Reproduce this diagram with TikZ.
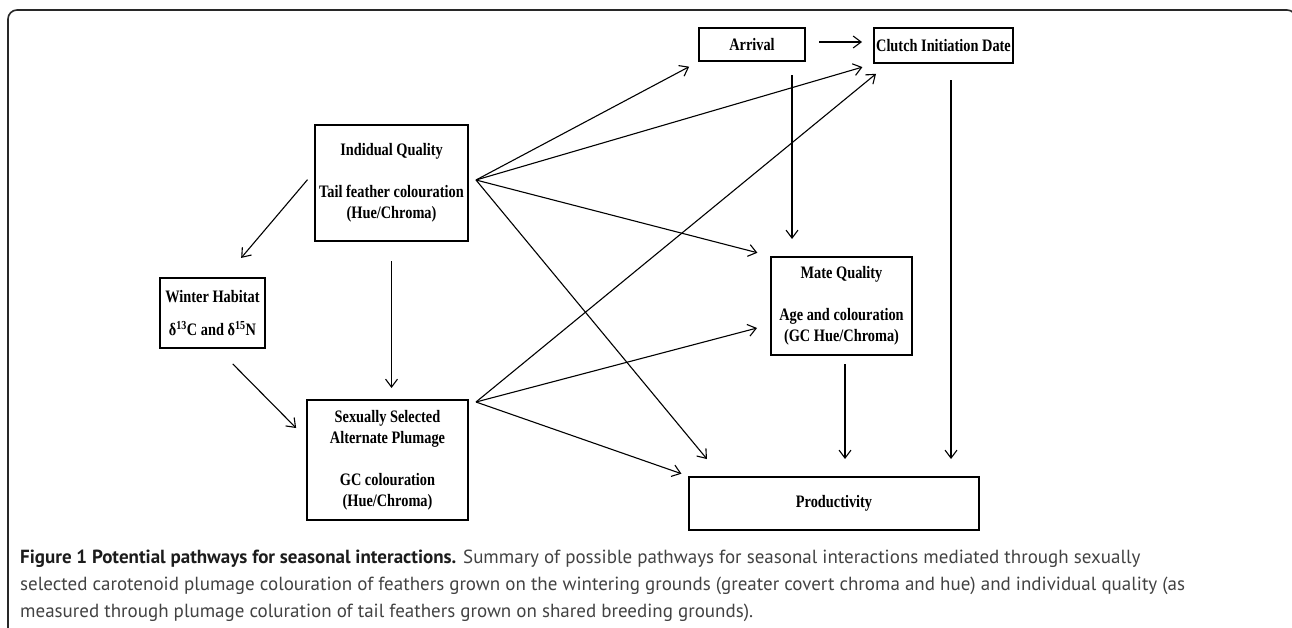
\documentclass[tikz,border=0pt]{standalone}
\usepackage{fontspec}
\setmainfont{Liberation Serif}
\newfontfamily\boxfont[FakeStretch=0.82]{Liberation Serif}
\newfontfamily\capfont{PT Sans}
\usepackage{tikz}
\usetikzlibrary{arrows.meta,calc}
\definecolor{frameGray}{RGB}{40,40,40}
\definecolor{capGray}{RGB}{66,66,66}
\definecolor{capDark}{RGB}{28,28,28}
\newcommand{\iso}[1]{\textsuperscript{#1}}

\begin{document}
\begin{tikzpicture}[x=1pt, y=-1pt, >={Straight Barb[length=8pt,width=12pt]}, font=\boxfont\bfseries\fontsize{17.5}{21}\selectfont]
\tikzstyle{box}=[draw, line width=2pt, align=center, inner sep=0pt]
\tikzstyle{arr}=[->, line width=1.1pt]
\useasboundingbox (0,0) rectangle (1292,627);
\draw[frameGray, line width=1.6pt, rounded corners=9pt] (8,660) -- (8,10) -- (1296,10) -- (1296,660);
\node[box, minimum width=153pt, minimum height=116pt] (iq) at (391.5,183) {Indidual Quality\\[21pt]Tail feather colouration\\(Hue/Chroma)};
\node[box, minimum width=105pt, minimum height=70pt] (wh) at (212.5,313) {Winter Habitat\\[12pt]δ\iso{13}C and δ\iso{15}N};
\node[box, minimum width=161pt, minimum height=120pt] (ss) at (387.5,460) {Sexually Selected\\Alternate Plumage\\[21pt]GC colouration\\(Hue/Chroma)};
\node[box, minimum width=106pt, minimum height=33pt] (arr) at (752,44.5) {Arrival};
\node[box, minimum width=139pt, minimum height=35pt] (cid) at (943.5,45.5) {Clutch Initiation Date};
\node[box, minimum width=141pt, minimum height=98pt] (mq) at (841.5,306) {Mate Quality\\[21pt]Age and colouration\\(GC Hue/Chroma)};
\node[box, minimum width=290pt, minimum height=53pt] (prod) at (834,503.5) {Productivity};
\coordinate (iqhub) at ([xshift=7pt, yshift=3pt]iq.east);
\coordinate (sshub) at ([xshift=7pt, yshift=-3pt]ss.north east);
\draw[arr, shorten <=10pt, shorten >=25pt] ([yshift=11pt]iq.west) -- ([xshift=12.5pt]wh.north);
\draw[arr, shorten <=19pt, shorten >=11pt] (iq.south) -- (iq.south |- ss.north);
\draw[arr, shorten <=21pt, shorten >=14pt] ([xshift=5.5pt]wh.south) -- ([yshift=22pt]ss.west);
\draw[arr, shorten >=10pt] (iqhub) -- (arr.south west);
\draw[arr, shorten >=11pt] (iqhub) -- (cid.south west);
\draw[arr, shorten >=13pt] (iqhub) -- (mq.north west);
\draw[arr, shorten >=22pt] (iqhub) -- ([xshift=33pt]prod.north west);
\draw[arr, shorten >=15.5pt] (sshub) -- ([xshift=15pt]cid.south west);
\draw[arr, shorten >=13.4pt] (sshub) -- ([yshift=-18.6pt]mq.west);
\draw[arr, shorten >=7pt] (sshub) -- (prod.north west);
\draw[arr, shorten <=13pt, shorten >=11pt] ([yshift=2.5pt]arr.east) -- ([yshift=2.5pt]arr.east -| cid.west);
\draw[arr, shorten <=13pt, shorten >=17pt] ([xshift=40pt]arr.south) -- ([xshift=40pt]arr.south |- mq.north);
\draw[arr, shorten <=16pt, shorten >=17pt] ([xshift=7.5pt]cid.south) -- ([xshift=7.5pt]cid.south |- prod.north);
\draw[arr, shorten <=8pt, shorten >=17pt] ([xshift=3.5pt]mq.south) -- ([xshift=3.5pt]mq.south |- prod.north);
\node[anchor=base west, align=left, inner sep=0pt, text=capGray, font=\capfont\fontsize{19}{27}\selectfont] (cap) at (20,617) {{\bfseries\color{capDark}Figure 1 Potential pathways for seasonal interactions.} Summary of possible pathways for seasonal interactions mediated through sexually\\selected carotenoid plumage colouration of feathers grown on the wintering grounds (greater covert chroma and hue) and individual quality (as\\measured through plumage coluration of tail feathers grown on shared breeding grounds).};
\end{tikzpicture}
\end{document}
